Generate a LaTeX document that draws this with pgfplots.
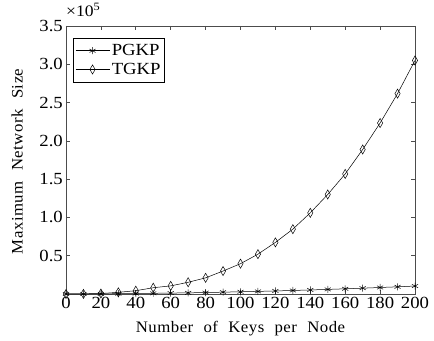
\documentclass[border=0pt]{standalone}
\usepackage{fontspec}
\setmainfont[FakeStretch=1.1]{Liberation Serif}
\newfontfamily\labfont[WordSpace=2.2,FakeStretch=1.05,LetterSpace=3]{Liberation Serif}
\usepackage{pgfplots}
\pgfplotsset{compat=1.18}
\begin{document}
\begin{tikzpicture}[font=\fontsize{17bp}{20bp}\selectfont]
\begin{axis}[
  at={(0,0)}, anchor=south west,
  width=349bp, height=268bp, scale only axis,
  xmin=0, xmax=200, ymin=0, ymax=3.5,
  xtick={0,20,...,200}, ytick={0.5,1.0,...,3.5},
  yticklabel style={inner xsep=3bp, /pgf/number format/.cd, fixed, fixed zerofill, precision=1},
  /pgf/number format/assume math mode=true,
  tick align=inside, major tick length=4bp, tick pos=both,
  axis line style={black!70, line width=0.7bp},
  tick style={black!70, line width=0.6bp},
  xlabel={\labfont\fontsize{16bp}{18bp}\selectfont Number of Keys per Node},
  ylabel={\labfont\fontsize{16bp}{18bp}\selectfont Maximum Network Size},
  xlabel style={at={(axis description cs:0.5,-0.142)}, anchor=base},
  ylabel style={at={(axis description cs:-0.14,0.495)}, anchor=center},
  legend style={at={(axis description cs:0.02,0.955)}, anchor=north west, draw=black, line width=0.6bp,
    font=\fontsize{17bp}{20bp}\selectfont, row sep=2bp, inner xsep=2bp, inner ysep=4bp},
  legend cell align=left,
  legend image code/.code={\draw[mark repeat=2,mark phase=2] plot coordinates {(0bp,0bp) (17bp,0bp) (34bp,0bp)};},
  clip=false,
]
\addplot[black, line width=0.5bp, mark=asterisk, mark size=3.5bp, mark options={line width=0.5bp}] coordinates {
(0,0) (10,0.001) (20,0.002) (30,0.004) (40,0.006) (50,0.009) (60,0.012) (70,0.015)
(80,0.019) (90,0.024) (100,0.029) (110,0.034) (120,0.040) (130,0.046) (140,0.053)
(150,0.060) (160,0.068) (170,0.076) (180,0.085) (190,0.094) (200,0.104)};
\addlegendentry{PGKP}
\addplot[black, line width=0.5bp, mark=diamond, mark size=3.5bp, mark options={line width=0.5bp, yscale=1.3}] coordinates {
(0,0) (10,0.002) (20,0.006) (30,0.022) (40,0.043) (50,0.082) (60,0.106) (70,0.153)
(80,0.211) (90,0.300) (100,0.396) (110,0.520) (120,0.674) (130,0.847) (140,1.060)
(150,1.300) (160,1.568) (170,1.887) (180,2.233) (190,2.617) (200,3.050)};
\addlegendentry{TGKP}
\node[anchor=base west, inner sep=0pt, font=\fontsize{16bp}{18bp}\selectfont] at ([yshift=9bp]rel axis cs:0,1) {×10\textsuperscript{5}};
\end{axis}
\pgfresetboundingbox
\useasboundingbox (-66bp,-47bp) rectangle (368bp,294bp);
\end{tikzpicture}
\end{document}
